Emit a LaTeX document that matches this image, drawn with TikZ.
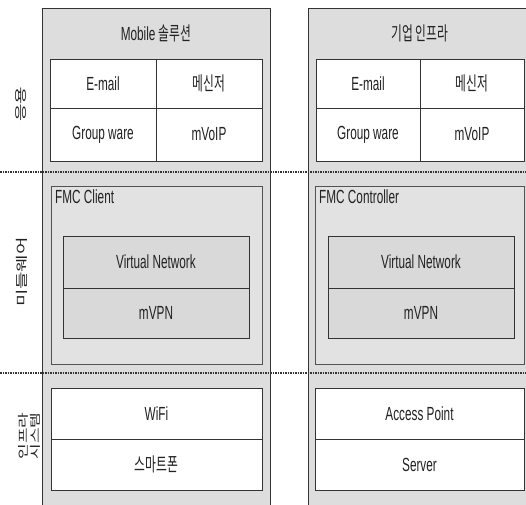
\documentclass[tikz,border=0pt]{standalone}
\usepackage{fontspec}
\setmainfont{Liberation Sans}[FakeStretch=0.62]
\newfontfamily\kr{Noto Sans CJK KR}[FakeStretch=0.62]
\newfontfamily\krside{Noto Sans CJK KR}
\definecolor{panelgray}{HTML}{DDDDDD}
\definecolor{boxgray}{HTML}{E2E2E2}
\definecolor{layergray}{HTML}{D9D9D9}
\definecolor{edge}{HTML}{333333}
\definecolor{ink}{HTML}{222222}
\newcommand{\textsize}{\fontsize{19}{21}\selectfont}
\tikzset{
  every node/.style={text=ink},
  panel/.style={fill=panelgray, draw=edge, line width=0.9pt},
  cell/.style={draw=edge, fill=white, line width=0.9pt, inner sep=0pt, font=\textsize},
  layer/.style={draw=edge, fill=layergray, line width=0.9pt, inner sep=0pt, font=\textsize},
  fmcbox/.style={draw=edge!85, fill=boxgray, line width=0.9pt},
  boxlabel/.style={anchor=north west, inner sep=0pt, font=\textsize},
  title/.style={font=\textsize, inner sep=0pt},
  sidelabel/.style={rotate=90, align=center, inner sep=0pt, font=\krside\fontsize{19}{19}\selectfont},
  divider/.style={line width=1.5pt, densely dotted, draw=edge}
}
% side captions: glyphs flattened across the line
\newcommand{\squash}[1]{\scalebox{1}[0.65]{#1}}
\begin{document}
\begin{tikzpicture}[x=1pt,y=-1pt]
\useasboundingbox (0,0) rectangle (526,504);
\clip (0,0) rectangle (526,504);

% the two columns
\draw[panel] (42,530) -- (42,8) -- (270,8) -- (270,530);
\draw[panel] (308,530) -- (308,8) -- (540,8) -- (540,530);

% titles
\node[title] (t1) at (156,33) {Mobile {\kr 솔루션}};
\node[title] (t2) at (420,33) {\kr 기업 인프라};

% application tables
\node[cell, minimum width=106pt, minimum height=49pt] (email1) at (103,83.5) {E-mail};
\node[cell, minimum width=106pt, minimum height=49pt] (msg1) at (209,83.5) {\kr 메신저};
\node[cell, minimum width=106pt, minimum height=53pt] (gw1) at (103,134.5) {Group ware};
\node[cell, minimum width=106pt, minimum height=53pt] (voip1) at (209,134.5) {mVoIP};

\node[cell, minimum width=104pt, minimum height=49pt] (email2) at (368,83.5) {E-mail};
\node[cell, minimum width=104pt, minimum height=49pt] (msg2) at (472,83.5) {\kr 메신저};
\node[cell, minimum width=104pt, minimum height=53pt] (gw2) at (368,134.5) {Group ware};
\node[cell, minimum width=104pt, minimum height=53pt] (voip2) at (472,134.5) {mVoIP};

% middleware boxes
\draw[fmcbox] (51,186) rectangle (262,364);
\node[boxlabel] (fmc1) at (55,190) {FMC Client};
\draw[fmcbox] (315,186) rectangle (524,364);
\node[boxlabel] (fmc2) at (319,190) {FMC Controller};

\node[layer, minimum width=186pt, minimum height=52pt] (vn1) at (156,262) {Virtual Network};
\node[layer, minimum width=186pt, minimum height=50pt] (vpn1) at (156,313) {mVPN};
\node[layer, minimum width=186pt, minimum height=52pt] (vn2) at (421,262) {Virtual Network};
\node[layer, minimum width=186pt, minimum height=50pt] (vpn2) at (421,313) {mVPN};

% infrastructure tables
\node[cell, minimum width=211pt, minimum height=51pt] (wifi) at (156.5,413.5) {WiFi};
\node[cell, minimum width=211pt, minimum height=51pt] (phone) at (156.5,464.5) {\kr 스마트폰};
\node[cell, minimum width=209pt, minimum height=51pt] (ap) at (419.5,413.5) {Access Point};
\node[cell, minimum width=209pt, minimum height=51pt] (srv) at (419.5,464.5) {Server};

% layer separators
\draw[divider] (0,172) -- (526,172);
\draw[divider] (0,373) -- (526,373);

% layer names
\node[sidelabel] (app) at (21,104) {\squash{응용}};
\node[sidelabel] (mid) at (22,272) {\squash{미들웨어}};
\node[sidelabel, font=\krside\fontsize{17}{17}\selectfont] (infra) at (29,436) {\squash{인프라}\\[-5pt]\squash{시스템}};
\end{tikzpicture}
\end{document}
